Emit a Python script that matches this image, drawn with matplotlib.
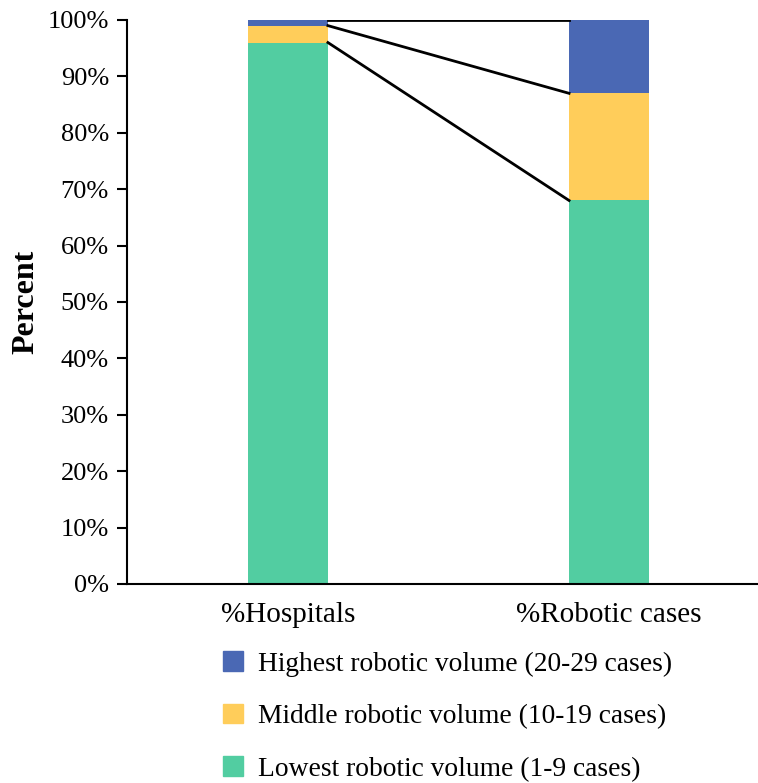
import matplotlib
matplotlib.use('Agg')
import matplotlib.pyplot as plt
import matplotlib.patches as mpatches
import numpy as np

categorias = ['%Hospitals', '%Robotic cases']
bajo = [96, 68]
medio = [3, 19]
alto = [1, 13]
etiquetas = ['Lowest robotic volume (1-9 cases)',
             'Middle robotic volume (10-19 cases)',
             'Highest robotic volume (20-29 cases)']
colores = ['#52cda1', '#ffcd5a', '#4a68b4']

plt.rcParams['font.family'] = ['Liberation Serif', 'DejaVu Serif']
plt.rcParams['font.size'] = 19

fig = plt.figure(figsize=(7.58, 7.83), dpi=100)
ax = fig.add_axes([127 / 758, 199 / 783, 643 / 758, 564 / 783])

x = np.arange(len(categorias))
ancho = 0.25
series = [bajo, medio, alto]
base = np.zeros(len(categorias))
topes = []
for vals, col in zip(series, colores):
    ax.bar(x, vals, ancho, bottom=base, color=col, zorder=2)
    base = base + np.array(vals)
    topes.append(base.copy())

# lineas de conexion entre barras
for t in topes:
    ax.plot([x[0] + ancho / 2, x[1] - ancho / 2], [t[0], t[1]],
            color='black', linewidth=2, zorder=3)

ax.set_xlim(-0.5, 1.5)
ax.set_ylim(0, 100)
ax.set_yticks(np.arange(0, 101, 10))
ax.set_yticklabels([f'{v}%' for v in range(0, 101, 10)])
ax.set_xticks(x)
ax.set_xticklabels(categorias, fontsize=21)
ax.tick_params(axis='x', length=0, pad=13)
ax.tick_params(axis='y', length=7, width=1.5, pad=6)
ax.spines['top'].set_visible(False)
ax.spines['right'].set_visible(False)
ax.spines['left'].set_linewidth(1.5)
ax.spines['bottom'].set_linewidth(1.5)
ax.set_ylabel('Percent', fontweight='bold', fontsize=23)
ax.yaxis.set_label_coords(40 / 758, 0.5 * 564 / 783 + 199 / 783,
                          transform=fig.transFigure)

handles = [mpatches.Patch(color=c, label=l) for c, l in zip(colores, etiquetas)]
fig.legend(handles[::-1], etiquetas[::-1], loc='upper left',
           bbox_to_anchor=(223 / 758, 1 - 651 / 783), frameon=False,
           borderpad=0, borderaxespad=0, handlelength=0.74, handleheight=0.74,
           handletextpad=0.55, labelspacing=0.98, fontsize=19.8)

fig.savefig('out.png', dpi=100)
plt.close(fig)
